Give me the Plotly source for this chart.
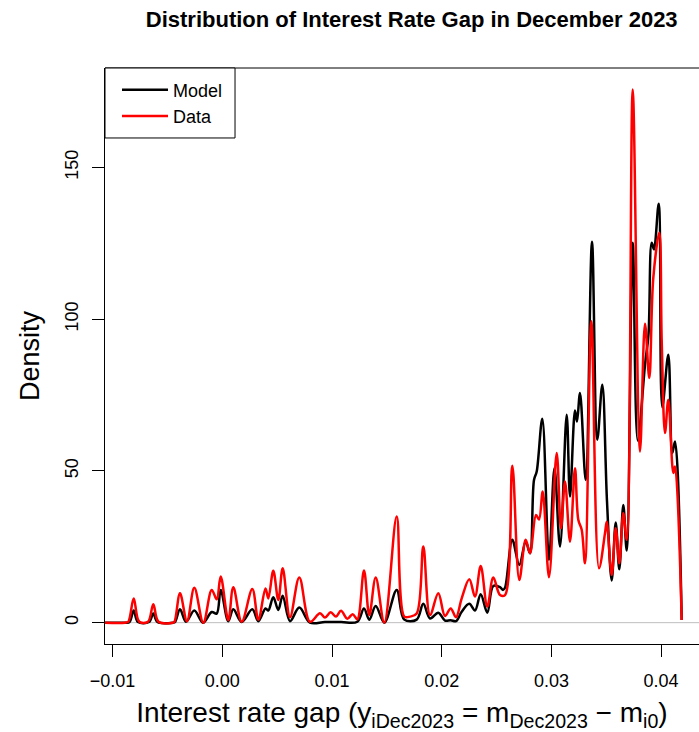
import plotly.graph_objects as go

# Interest rate gap grid points and density readings for each series
model_gap = [
    -0.01069, -0.00887, -0.008459, -0.008077, -0.007685, -0.006682, -0.00629, -0.005907,
    -0.004494, -0.004312, -0.003856, -0.003309, -0.002552, -0.001759, -0.000966, -0.00051,
    -0.000146, 0.000547, 0.001003, 0.001768, 0.002735, 0.003282, 0.003938, 0.004193,
    0.004649, 0.005105, 0.005506, 0.006171, 0.007019, 0.007995, 0.009362, 0.010820,
    0.012306, 0.012917, 0.0134, 0.013984, 0.014768, 0.015898, 0.016591, 0.017721,
    0.018323, 0.018933, 0.01969, 0.020301, 0.02082, 0.021304, 0.021823, 0.022516,
    0.023036, 0.023555, 0.024157, 0.024704, 0.025315, 0.025588, 0.02577, 0.026436,
    0.027074, 0.027657, 0.028049, 0.028414, 0.02866, 0.02917, 0.029781, 0.030283,
    0.030784, 0.031395, 0.031696, 0.032151, 0.032334, 0.032607, 0.033126, 0.033701,
    0.034184, 0.03464, 0.035068, 0.035497, 0.035862, 0.03619, 0.036554, 0.036864,
    0.037411, 0.037867, 0.038532, 0.038851, 0.039143, 0.039353, 0.039781, 0.040109,
    0.040656, 0.041021, 0.041267, 0.041878,
]
model_density = [
    0.0, 0.0, 0.2, 4.0, 0.2, 0.2, 3.0, 0.2,
    0.0, 0.2, 4.4, 0.3, 4.0, 0.0, 3.5, 3.0,
    10.8, 0.5, 4.4, 0.2, 4.4, 0.5, 4.7, 4.0,
    8.4, 4.2, 8.9, 0.5, 5.0, 0.0, 0.2, 0.2,
    0.3, 4.7, 1.0, 5.5, 0.0, 10.8, 1.0, 1.0,
    6.2, 1.4, 3.3, 0.7, 0.8, 0.5, 3.6, 6.2,
    4.0, 9.4, 3.3, 12.1, 11.7, 10.8, 11.5, 27.3,
    19.0, 26.7, 22.9, 47.0, 49.8, 67.2, 20.7, 51.0,
    25.1, 68.5, 41.6, 69.9, 66.3, 75.7, 47.0, 125.5,
    60.3, 78.4, 40.0, 13.9, 33.0, 17.6, 38.8, 23.8,
    125.2, 60.0, 85.0, 95.0, 125.2, 123.0, 138.1, 71.0,
    88.3, 55.9, 59.7, 0.9,
]

data_gap = [
    -0.01069, -0.00887, -0.008569, -0.008077, -0.007566, -0.006773, -0.00629, -0.005816,
    -0.004494, -0.004357, -0.003856, -0.003218, -0.002552, -0.001732, -0.000966, -0.00051,
    -0.000146, 0.000547, 0.001003, 0.001768, 0.002735, 0.003282, 0.003938, 0.004193,
    0.004649, 0.005105, 0.005506, 0.006171, 0.007019, 0.007995, 0.008906, 0.009362,
    0.009881, 0.010365, 0.01082, 0.011395, 0.011887, 0.012306, 0.012917, 0.0134,
    0.013984, 0.014768, 0.015898, 0.016591, 0.01711, 0.017721, 0.018323, 0.018933,
    0.01969, 0.020301, 0.02082, 0.021304, 0.021823, 0.022516, 0.023036, 0.023555,
    0.024157, 0.024704, 0.025315, 0.02577, 0.026436, 0.027074, 0.027657, 0.028049,
    0.028596, 0.02887, 0.029207, 0.029781, 0.030483, 0.030875, 0.03124, 0.031696,
    0.032151, 0.032452, 0.032762, 0.033063, 0.033637, 0.034339, 0.034886, 0.035041,
    0.035497, 0.035862, 0.03619, 0.036554, 0.036864, 0.037411, 0.038076, 0.038532,
    0.038924, 0.039289, 0.039836, 0.040055, 0.040356, 0.040656, 0.041112, 0.041267,
    0.041878,
]
data_density = [
    0.0, 0.0, 0.3, 8.0, 0.3, 0.3, 6.1, 0.3,
    0.0, 0.3, 9.7, 0.5, 11.5, 0.0, 10.8, 7.7,
    15.2, 0.8, 11.7, 0.3, 11.1, 1.0, 11.3, 8.0,
    17.1, 7.5, 17.9, 1.8, 14.9, 0.3, 3.1, 1.7,
    3.4, 2.0, 3.9, 1.3, 2.8, 1.1, 17.2, 2.5,
    14.9, 0.0, 35.0, 2.0, 2.0, 3.0, 25.1, 2.5,
    9.7, 2.2, 4.7, 1.8, 8.0, 14.3, 8.6, 18.7,
    5.3, 14.9, 9.1, 9.1, 51.7, 14.1, 27.3, 22.9,
    35.5, 34.0, 43.2, 15.0, 55.9, 31.1, 46.5, 26.7,
    50.9, 33.9, 30.6, 19.6, 99.3, 17.9, 29.5, 33.3,
    15.7, 31.1, 19.6, 36.1, 27.3, 175.7, 56.4, 98.5,
    80.6, 113.6, 128.5, 93.0, 62.5, 73.5, 49.3, 51.5,
    0.9,
]

x_ticks = [-0.01, 0.00, 0.01, 0.02, 0.03, 0.04]
y_ticks = [0, 50, 100, 150]

FONT = "Liberation Sans, Arial, Helvetica, sans-serif"

fig = go.Figure()
fig.add_trace(go.Scatter(
    x=model_gap, y=model_density, mode="lines", name="Model",
    line=dict(color="black", width=2.5, shape="spline", smoothing=1.0),
))
fig.add_trace(go.Scatter(
    x=data_gap, y=data_density, mode="lines", name="Data",
    line=dict(color="#ff0000", width=2.5, shape="spline", smoothing=1.0),
))

# reference line at zero density
fig.add_shape(type="line", xref="paper", yref="y", x0=0, x1=1, y0=0, y1=0,
              line=dict(color="#bebebe", width=1), layer="below")
# top edge of the plot frame
fig.add_shape(type="line", xref="paper", yref="paper", x0=0, x1=1, y0=1, y1=1,
              line=dict(color="black", width=1))
# legend frame
fig.add_shape(type="rect", xref="paper", yref="paper", x0=0, x1=0.2189, y0=0.8785, y1=1,
              line=dict(color="black", width=1), fillcolor="white", layer="above")

fig.update_layout(
    width=699, height=732,
    margin=dict(l=105, r=0, t=68, b=88),
    paper_bgcolor="white", plot_bgcolor="white",
    font=dict(family=FONT, color="black", size=18),
    title=dict(
        text="Distribution of Interest Rate Gap in December 2023",
        font=dict(family=FONT, size=22, weight="bold", color="black"),
        xref="container", x=0.589, xanchor="center",
        yref="container", y=0.974, yanchor="middle",
    ),
    showlegend=True,
    legend=dict(
        x=0.0202, y=0.994, xanchor="left", yanchor="top",
        borderwidth=0, bgcolor="rgba(0,0,0,0)",
        itemwidth=46,
        font=dict(family=FONT, size=18),
    ),
    xaxis=dict(
        range=[-0.010693, 0.043455],
        tickvals=x_ticks, tickformat=".2f",
        ticks="outside", ticklen=12, tickcolor="black", tickwidth=1,
        showline=True, linecolor="black", linewidth=1,
        showgrid=False, zeroline=False,
        tickfont=dict(size=18),
        ticklabelstandoff=8,
        title=dict(
            text="Interest rate gap (y<sub>iDec2023</sub> = m<sub>Dec2023</sub> − m<sub>i0</sub>)",
            font=dict(size=28), standoff=18,
        ),
    ),
    yaxis=dict(
        range=[-7.03, 182.8],
        tickvals=y_ticks,
        ticks="outside", ticklen=12, tickcolor="black", tickwidth=1,
        tickangle=-90,
        showline=True, linecolor="black", linewidth=1,
        showgrid=False, zeroline=False,
        tickfont=dict(size=18),
        ticklabelstandoff=7,
        title=dict(text="Density", font=dict(size=27), standoff=14),
    ),
)

fig.write_html("out.html")
